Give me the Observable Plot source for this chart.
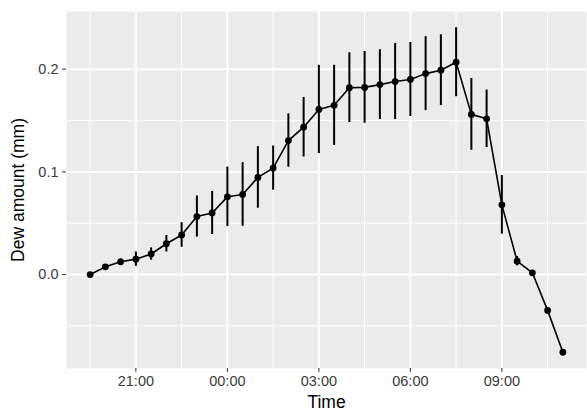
<!DOCTYPE html>
<html><head><meta charset="utf-8">
<script src="https://cdn.jsdelivr.net/npm/d3@7"></script>
<script src="https://cdn.jsdelivr.net/npm/@observablehq/plot@0.6"></script>
<style>
body{margin:0;background:#fff;}
g[aria-label="x-axis label"], g[aria-label="y-axis label"]{font-size:17.5px;fill:#000;}
g[aria-label="x-axis tick label"], g[aria-label="y-axis tick label"]{fill:#3a3a3a;}
g[aria-label="x-axis tick"], g[aria-label="y-axis tick"]{stroke:#333;}
</style></head><body><div id="chart"></div>
<script>
const times = ["19:30","20:00","20:30","21:00","21:30","22:00","22:30","23:00","23:30","00:00","00:30","01:00","01:30","02:00","02:30","03:00","03:30","04:00","04:30","05:00","05:30","06:00","06:30","07:00","07:30","08:00","08:30","09:00","09:30","10:00","10:30","11:00"];
const dew = [0, 0.0075, 0.0124, 0.015, 0.020, 0.030, 0.0385, 0.0565, 0.060, 0.0757, 0.078, 0.0946, 0.1037, 0.1305, 0.1435, 0.1608, 0.1648, 0.182, 0.1823, 0.185, 0.188, 0.190, 0.1957, 0.199, 0.2068, 0.156, 0.1517, 0.0679, 0.013, 0.0017, -0.0349, -0.0757];
const err = [0, 0.002, 0.003, 0.007, 0.006, 0.008, 0.012, 0.020, 0.021, 0.029, 0.031, 0.030, 0.0215, 0.026, 0.029, 0.043, 0.039, 0.034, 0.035, 0.034, 0.037, 0.036, 0.036, 0.0345, 0.0336, 0.035, 0.028, 0.0285, 0.0045, 0, 0, 0];
const xTickLabels = ["21:00","00:00","03:00","06:00","09:00"];
const xMinorLabels = ["19:30","22:30","01:30","04:30","07:30","10:30"];
const yTicks = [0, 0.1, 0.2];
const yMinor = [-0.05, 0.05, 0.15];

const toDate = t => { const [h, m] = t.split(":").map(Number); return new Date(Date.UTC(2000, 0, h < 12 ? 2 : 1, h, m)); };
const data = times.map((t, i) => ({time: toDate(t), dew: dew[i], lo: dew[i] - err[i], hi: dew[i] + err[i], err: err[i]}));
const xMajor = xTickLabels.map(toDate);
const xMinor = xMinorLabels.map(toDate);

const t0 = d3.min(data, d => d.time), t1 = d3.max(data, d => d.time);
const tp = (t1 - t0) * 0.05;
const y0 = d3.min(data, d => d.lo), y1 = d3.max(data, d => d.hi);
const yp = (y1 - y0) * 0.05;

const chart = Plot.plot({
  width: 587, height: 412,
  marginLeft: 66, marginTop: 11, marginRight: 1, marginBottom: 44,
  style: "font-family: 'Liberation Sans', Arial, sans-serif; font-size: 14.5px; color: #333; background: #fff;",
  x: {type: "utc", domain: [new Date(+t0 - tp), new Date(+t1 + tp)]},
  y: {domain: [y0 - yp, y1 + yp]},
  marks: [
    Plot.frame({fill: "#ebebeb", stroke: null}),
    Plot.gridY(yMinor, {stroke: "#fff", strokeOpacity: 1, strokeWidth: 1}),
    Plot.gridX(xMinor, {stroke: "#fff", strokeOpacity: 1, strokeWidth: 1}),
    Plot.gridY(yTicks, {stroke: "#fff", strokeOpacity: 1, strokeWidth: 2}),
    Plot.gridX(xMajor, {stroke: "#fff", strokeOpacity: 1, strokeWidth: 2}),
    Plot.ruleX(data.filter(d => d.err > 0), {x: "time", y1: "lo", y2: "hi", stroke: "#000", strokeWidth: 2}),
    Plot.line(data, {x: "time", y: "dew", stroke: "#000", strokeWidth: 1.6}),
    Plot.dot(data, {x: "time", y: "dew", r: 3.4, fill: "#000", stroke: null}),
    Plot.axisX(xMajor, {tickFormat: d3.utcFormat("%H:%M"), tickSize: 4, tickPadding: 3, label: "Time", labelAnchor: "center", labelArrow: "none", labelOffset: 39}),
    Plot.axisY(yTicks, {tickFormat: d3.format(".1f"), tickSize: 4, tickPadding: 4, label: "Dew amount (mm)", labelAnchor: "center", labelArrow: "none", labelOffset: 55})
  ]
});
document.getElementById("chart").appendChild(chart);
</script></body></html>
